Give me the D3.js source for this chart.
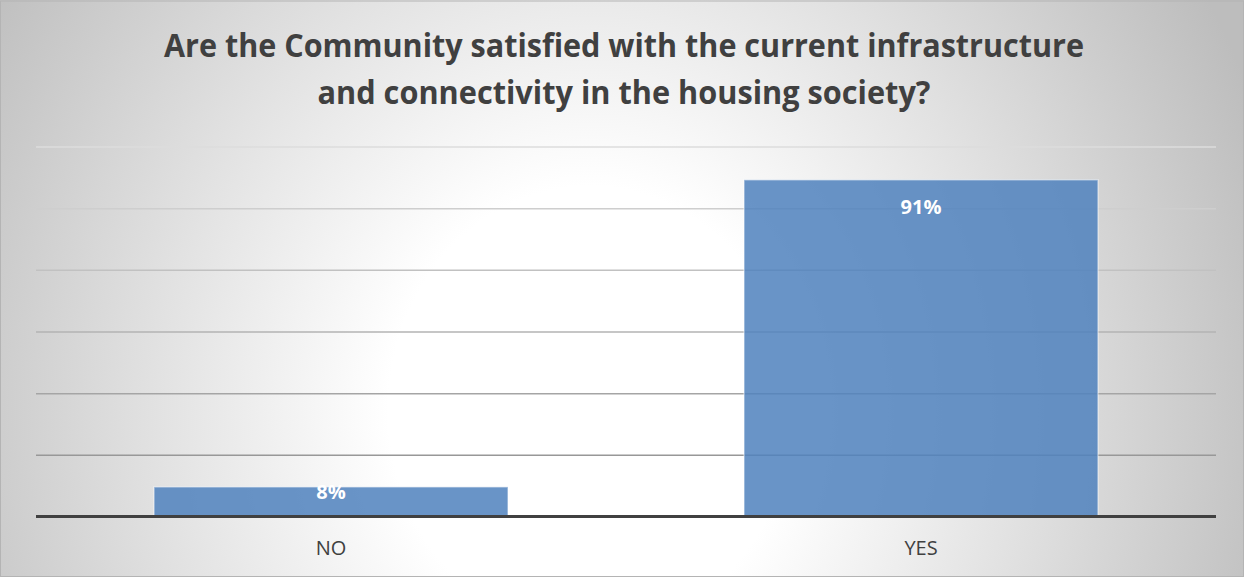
<!DOCTYPE html>
<html>
<head>
<meta charset="utf-8">
<script src="https://cdn.jsdelivr.net/npm/d3@7"></script>
<style>
  html, body { margin: 0; padding: 0; background: #ffffff; }
  svg { display: block; }
</style>
</head>
<body>
<svg id="chart" width="1244" height="577"></svg>
<script>
// Survey answers and their share of respondents (%)
const categories = ["NO", "YES"];
const shares = [8, 91];
const valueLabels = ["8%", "91%"];
const titleLines = [
  "Are the Community satisfied with the current infrastructure",
  "and connectivity in the housing society?"
];
const axisMax = 100;
const gridDivisions = 6;

const W = 1244, H = 577;
const plot = { left: 36, right: 1216, top: 146.5, bottom: 516.5 };

const svg = d3.select("#chart");
const defs = svg.append("defs");

// Soft radial fill for the chart area: white low in the middle, grey towards the edges
const cx = 590, cy = 410;
const bg = defs.append("radialGradient")
  .attr("id", "bgGrad")
  .attr("gradientUnits", "userSpaceOnUse")
  .attr("cx", cx).attr("cy", cy).attr("r", 720)
  .attr("gradientTransform", `translate(${cx},${cy}) scale(1,1.11) translate(${-cx},${-cy})`);
[[0, "#ffffff"], [0.28, "#ffffff"], [0.6, "#e2e2e2"], [1, "#bdbdbd"]].forEach(([o, c]) =>
  bg.append("stop").attr("offset", o).attr("stop-color", c));

svg.append("rect")
  .attr("x", 0).attr("y", 0).attr("width", W).attr("height", H)
  .attr("fill", "url(#bgGrad)");

// thin frame around the chart area
svg.append("rect")
  .attr("x", 0.5).attr("y", 1).attr("width", W - 1).attr("height", H - 1.5)
  .attr("fill", "none").attr("stroke", "#b4b4b4").attr("stroke-width", 1);

// Title
const title = svg.append("g").attr("class", "title")
  .attr("font-family", "'Open Sans', 'Noto Sans', sans-serif")
  .attr("font-weight", 700)
  .attr("font-size", 33)
  .attr("fill", "#404040")
  .attr("text-anchor", "middle");
const titleWidths = [920, 613];
titleLines.forEach((line, i) => {
  title.append("text")
    .attr("x", 624)
    .attr("y", 57 + i * 47)
    .attr("textLength", titleWidths[i])
    .attr("lengthAdjust", "spacingAndGlyphs")
    .text(line);
});

// Scales
const x = d3.scaleBand()
  .domain(categories)
  .range([plot.left, plot.right])
  .paddingInner(0.4)
  .paddingOuter(0.2);

const y = d3.scaleLinear()
  .domain([0, axisMax])
  .range([plot.bottom, plot.top]);

// Horizontal gridlines, lighter at the top and darker towards the axis
const gridValues = d3.range(1, gridDivisions + 1).map(i => i * axisMax / gridDivisions);
const gridShade = d3.scaleLinear()
  .domain([0, axisMax])
  .range(["#8a8a8a", "#dcdcdc"])
  .interpolate(d3.interpolateRgb);
const yGrid = d3.axisLeft(y)
  .tickValues(gridValues)
  .tickSize(-(plot.right - plot.left))
  .tickFormat("");
const gridG = svg.append("g")
  .attr("transform", `translate(${plot.left},0)`)
  .call(yGrid);
gridG.select(".domain").remove();
gridG.selectAll(".tick line")
  .attr("stroke", d => gridShade(d))
  .attr("stroke-width", 1.5);

// Bars
const data = categories.map((c, i) => ({ cat: c, v: shares[i], label: valueLabels[i] }));
svg.append("g").selectAll("rect")
  .data(data)
  .join("rect")
  .attr("x", d => x(d.cat))
  .attr("y", d => y(d.v))
  .attr("width", x.bandwidth())
  .attr("height", d => y(0) - y(d.v))
  .attr("fill", "#4f81bd")
  .attr("fill-opacity", 0.85)
  .attr("stroke", "#ffffff")
  .attr("stroke-opacity", 0.45)
  .attr("stroke-width", 1.5);

// Category axis
const xAxis = d3.axisBottom(x).tickSize(0).tickPadding(0);
const xG = svg.append("g")
  .attr("transform", `translate(0,${plot.bottom})`)
  .call(xAxis);
xG.select(".domain").remove();
xG.selectAll(".tick text")
  .attr("dy", null)
  .attr("y", 38)
  .attr("font-family", "'Open Sans', 'Noto Sans', sans-serif")
  .attr("font-size", 20)
  .attr("fill", "#404040");

svg.append("line")
  .attr("x1", plot.left).attr("x2", plot.right)
  .attr("y1", y(0)).attr("y2", y(0))
  .attr("stroke", "#404040")
  .attr("stroke-width", 3);

// Value labels at the inside end of each bar
svg.append("g").selectAll("text")
  .data(data)
  .join("text")
  .attr("x", d => x(d.cat) + x.bandwidth() / 2)
  .attr("y", d => {
    const h = y(0) - y(d.v);
    return y(d.v) + Math.min(34, h * 0.4);
  })
  .attr("text-anchor", "middle")
  .attr("font-family", "'Open Sans', 'Noto Sans', sans-serif")
  .attr("font-weight", 700)
  .attr("font-size", 20)
  .attr("fill", "#ffffff")
  .text(d => d.label);
</script>
</body>
</html>
